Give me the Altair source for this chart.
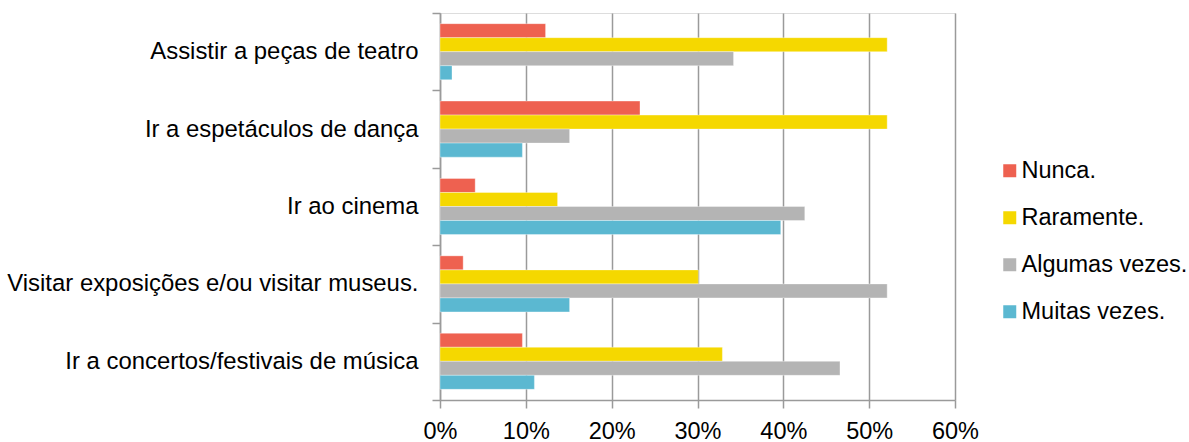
import altair as alt
import pandas as pd

# Survey answers: share of respondents (%) per activity and frequency
activities = [
    "Assistir a peças de teatro",
    "Ir a espetáculos de dança",
    "Ir ao cinema",
    "Visitar exposições e/ou visitar museus.",
    "Ir a concertos/festivais de música",
]
frequencies = ["Nunca.", "Raramente.", "Algumas vezes.", "Muitas vezes."]

nunca = [12.3, 23.3, 4.1, 2.7, 9.6]
raramente = [52.1, 52.1, 13.7, 30.1, 32.9]
algumas = [34.2, 15.1, 42.5, 52.1, 46.6]
muitas = [1.4, 9.6, 39.7, 15.1, 11.0]

colors = ["#EE6150", "#F5D800", "#B4B4B4", "#5BB8D1"]
x_ticks = [0, 10, 20, 30, 40, 50, 60]

rows = []
for series, name in zip([nunca, raramente, algumas, muitas], frequencies):
    for act, v in zip(activities, series):
        rows.append({"atividade": act, "frequencia": name, "pct": v})
df = pd.DataFrame(rows)

FONT = "Liberation Sans"
GRID = "#9a9a9a"

bars = (
    alt.Chart(df)
    .mark_bar(stroke="white", strokeWidth=1, strokeOpacity=0.35)
    .encode(
        x=alt.X(
            "pct:Q",
            scale=alt.Scale(domain=[0, 60], nice=False, zero=True),
            axis=alt.Axis(
                values=x_ticks,
                labelExpr="datum.value + '%'",
                labelFlush=False,
                title=None,
                grid=True,
                gridColor=GRID,
                gridWidth=1.5,
                domainColor=GRID,
                domainWidth=1.5,
                tickColor=GRID,
                tickWidth=1.5,
                tickSize=8,
                labelPadding=11,
                labelFont=FONT,
                labelFontSize=23.5,
                labelColor="#000000",
            ),
        ),
        y=alt.Y(
            "atividade:N",
            sort=activities,
            scale=alt.Scale(paddingInner=0, paddingOuter=0),
            axis=alt.Axis(
                title=None,
                grid=False,
                tickBand="extent",
                domainColor=GRID,
                domainWidth=1.5,
                tickColor=GRID,
                tickWidth=1.5,
                tickSize=8,
                labelPadding=14,
                labelFont=FONT,
                labelFontSize=23.9,
                labelColor="#000000",
                labelLimit=500,
            ),
        ),
        yOffset=alt.YOffset(
            "frequencia:N",
            sort=frequencies,
            scale=alt.Scale(paddingInner=0, paddingOuter=0.76),
        ),
        color=alt.Color(
            "frequencia:N",
            sort=frequencies,
            scale=alt.Scale(domain=frequencies, range=colors),
            legend=alt.Legend(
                title=None,
                orient="none",
                legendX=558,
                legendY=146,
                symbolType="square",
                symbolSize=169,
                symbolStrokeWidth=0,
                labelFont=FONT,
                labelFontSize=23.5,
                labelColor="#000000",
                labelOffset=0,
                rowPadding=22,
                padding=0,
                labelLimit=400,
            ),
        ),
    )
)

chart = (
    bars.properties(
        width=515,
        height=387,
        autosize=alt.AutoSizeParams(type="none"),
        padding={"left": 440, "top": 13, "right": 234, "bottom": 42},
    )
    .configure_view(stroke=None)
    .configure(background="white")
)

chart.save("out.html", embed_options={"renderer": "svg", "actions": False})
